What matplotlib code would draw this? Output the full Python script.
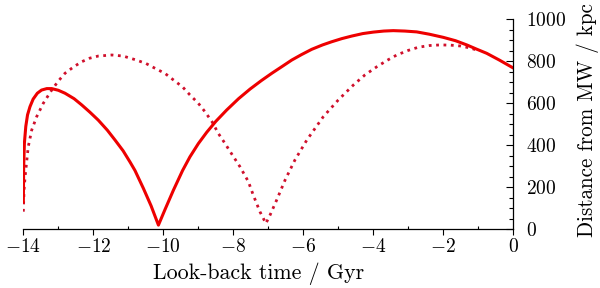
import matplotlib
matplotlib.use("Agg")
import matplotlib.pyplot as plt
from matplotlib.ticker import MultipleLocator

plt.rcParams['font.family'] = 'cmr10'
plt.rcParams['mathtext.fontset'] = 'cm'
plt.rcParams['axes.formatter.use_mathtext'] = True

# Solid orbit: look-back time (Gyr), distance (kpc)
t_solid = [-14.00, -13.99, -13.97, -13.93, -13.88, -13.81, -13.72, -13.60, -13.48, -13.33,
           -13.19, -13.00, -12.81, -12.55, -12.33, -12.10, -11.86, -11.60, -11.38, -11.15,
           -10.95, -10.81, -10.57, -10.35, -10.14, -9.95, -9.71, -9.45, -9.24, -9.00,
           -8.76, -8.50, -8.19, -7.85, -7.52, -7.20, -6.90, -6.60, -6.33, -6.05,
           -5.76, -5.45, -5.19, -4.90, -4.62, -4.30, -4.00, -3.70, -3.43, -3.10,
           -2.76, -2.40, -2.00, -1.65, -1.33, -1.05, -0.76, -0.40, 0.00]
r_solid = [130, 300, 410, 490, 545, 584, 620, 648, 663, 670,
           670, 662, 648, 622, 592, 558, 520, 472, 425, 374,
           320, 280, 195, 112, 20, 95, 187, 280, 345, 408,
           462, 514, 568, 622, 668, 708, 743, 776, 806, 832,
           857, 878, 893, 908, 920, 932, 939, 944, 946, 944,
           940, 929, 914, 898, 878, 858, 838, 806, 768]

# Dotted orbit
t_dot = [-14.00, -13.98, -13.95, -13.92, -13.86, -13.76, -13.62, -13.43, -13.19, -13.00,
         -12.81, -12.55, -12.33, -12.10, -11.86, -11.47, -11.15, -10.81, -10.50, -10.24,
         -9.95, -9.71, -9.45, -9.24, -9.00, -8.81, -8.60, -8.43, -8.25, -8.09,
         -7.81, -7.57, -7.43, -7.24, -7.07, -6.95, -6.76, -6.52, -6.24, -5.90,
         -5.43, -5.00, -4.57, -4.24, -3.90, -3.60, -3.33, -3.00, -2.71, -2.40,
         -2.09, -1.80, -1.52, -1.25, -1.05]
r_dot = [84, 187, 250, 298, 393, 473, 536, 600, 663, 706,
         743, 775, 798, 815, 825, 830, 825, 808, 790, 767,
         742, 711, 678, 640, 600, 560, 510, 457, 412, 370,
         298, 227, 163, 84, 28, 68, 140, 235, 330, 425,
         536, 616, 687, 735, 774, 805, 830, 852, 867, 875,
         878, 877, 873, 864, 854]

fig = plt.figure(figsize=(6.0, 2.88), dpi=100)
ax = fig.add_axes([0.0389, 0.2038, 0.8166, 0.7292])

ax.plot(t_dot, r_dot, color='#d0102c', lw=2.0, linestyle=':')
ax.plot(t_solid, r_solid, color='#ee0000', lw=2.2, solid_capstyle='round',
        solid_joinstyle='round')

ax.set_xlim(-14, 0)
ax.set_ylim(0, 1000)

ax.spines['left'].set_visible(False)
ax.spines['top'].set_visible(False)
ax.spines['right'].set_linewidth(0.9)
ax.spines['bottom'].set_linewidth(0.9)

ax.yaxis.tick_right()
ax.yaxis.set_label_position('right')

ax.xaxis.set_major_locator(MultipleLocator(2))
ax.xaxis.set_minor_locator(MultipleLocator(1))
ax.yaxis.set_major_locator(MultipleLocator(200))
ax.yaxis.set_minor_locator(MultipleLocator(50))

ax.tick_params(axis='x', which='major', direction='out', length=4, width=0.8,
               labelsize=14, pad=2)
ax.tick_params(axis='x', which='minor', direction='in', length=2, width=0.8)
ax.tick_params(axis='y', which='major', direction='in', length=5, width=0.8,
               labelsize=14, pad=9, left=False, right=True)
ax.tick_params(axis='y', which='minor', direction='in', length=3, width=0.8,
               left=False, right=True)

ax.set_xlabel('Look-back time / Gyr', fontsize=15.8)
ax.set_ylabel('Distance from MW / kpc', fontsize=15.2)
ax.xaxis.set_label_coords(0.481, -0.16)
ax.yaxis.set_label_coords(1.128, 0.52)

fig.savefig('out.png', dpi=100)
